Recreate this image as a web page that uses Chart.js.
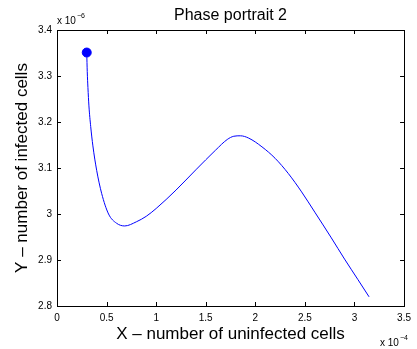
<!DOCTYPE html>
<html>
<head>
<meta charset="utf-8">
<script src="https://cdn.jsdelivr.net/npm/chart.js@4.4.1/dist/chart.umd.min.js"></script>
<style>
  html, body { margin: 0; padding: 0; background: #fff; }
  canvas { display: block; }
</style>
</head>
<body>
<canvas id="phaseChart" width="417" height="349"></canvas>
<script>
// x in units of 1e-4, y in units of 1e-6
const xValues = [0.300, 0.305, 0.312, 0.322, 0.340, 0.362, 0.400, 0.450, 0.520, 0.600, 0.683, 0.800, 0.900, 1.000,
  1.200, 1.400, 1.600, 1.717, 1.783, 1.850, 1.933, 2.067, 2.200, 2.333, 2.467, 2.600, 2.767, 2.900, 3.033, 3.147];
const yValues = [3.351, 3.310, 3.275, 3.235, 3.190, 3.148, 3.095, 3.045, 3.000, 2.980, 2.974, 2.983, 2.995, 3.012,
  3.052, 3.096, 3.139, 3.162, 3.169, 3.170, 3.165, 3.146, 3.121, 3.088, 3.048, 3.004, 2.948, 2.902, 2.858, 2.820];
const xTicks = [0, 0.5, 1, 1.5, 2, 2.5, 3, 3.5];
const yTicks = [2.8, 2.9, 3, 3.1, 3.2, 3.3, 3.4];

const FONT = 'Liberation Sans, Arial, Helvetica, sans-serif';

// Function to draw the matlab style box, inward ticks, title and exponents
const matlabFrame = {
  id: 'matlabFrame',
  afterDraw(chart) {
    const { ctx, chartArea: a, scales: { x, y } } = chart;
    ctx.save();
    ctx.strokeStyle = '#000';
    ctx.lineWidth = 1;
    ctx.strokeRect(Math.round(a.left) + 0.5, Math.round(a.top) + 0.5,
      Math.round(a.right - a.left), Math.round(a.bottom - a.top));

    ctx.beginPath();
    x.ticks.forEach(t => {
      const px = Math.round(x.getPixelForValue(t.value)) + 0.5;
      ctx.moveTo(px, a.bottom); ctx.lineTo(px, a.bottom - 4);
      ctx.moveTo(px, a.top); ctx.lineTo(px, a.top + 4);
    });
    y.ticks.forEach(t => {
      const py = Math.round(y.getPixelForValue(t.value)) + 0.5;
      ctx.moveTo(a.left, py); ctx.lineTo(a.left + 4, py);
      ctx.moveTo(a.right, py); ctx.lineTo(a.right - 4, py);
    });
    ctx.stroke();

    ctx.fillStyle = '#000';
    ctx.textAlign = 'center';
    ctx.textBaseline = 'alphabetic';
    ctx.font = '16px ' + FONT;
    ctx.fillText('Phase portrait 2', (a.left + a.right) / 2, 20);

    ctx.textAlign = 'left';
    ctx.font = '10px ' + FONT;
    ctx.fillText('x 10', a.left, 24);
    ctx.font = '7px ' + FONT;
    ctx.fillText('\u22126', a.left + 20, 18);

    ctx.font = '10px ' + FONT;
    ctx.fillText('x 10', 380, 346);
    ctx.font = '7px ' + FONT;
    ctx.fillText('\u22124', 400, 340);
    ctx.restore();
  }
};

const tickLabel = v => String(Math.round(v * 10) / 10);

new Chart(document.getElementById('phaseChart'), {
  type: 'scatter',
  data: {
    datasets: [{
      data: xValues.map((xv, i) => ({ x: xv, y: yValues[i] })),
      showLine: true,
      borderColor: '#0000ff',
      backgroundColor: '#0000ff',
      borderWidth: 1,
      cubicInterpolationMode: 'monotone',
      pointRadius: ctx => ctx.dataIndex === 0 ? 4.5 : 0,
      pointHoverRadius: 0,
    }],
  },
  plugins: [matlabFrame],
  options: {
    responsive: false,
    animation: false,
    layout: { padding: { top: 30, right: 9, left: 0, bottom: 0 } },
    plugins: {
      legend: { display: false },
      tooltip: { enabled: false },
    },
    scales: {
      x: {
        type: 'linear',
        min: 0,
        max: 3.5,
        afterFit: s => { s.height = 43; },
        afterBuildTicks: s => { s.ticks = xTicks.map(v => ({ value: v })); },
        grid: { display: false, drawTicks: false },
        border: { display: false },
        ticks: { color: '#000', padding: 6, font: { family: FONT, size: 10 }, callback: tickLabel },
        title: {
          display: true,
          text: 'X \u2013 number of uninfected cells',
          color: '#000',
          font: { family: FONT, size: 17 },
          padding: { top: 0, bottom: 4 },
        },
      },
      y: {
        type: 'linear',
        min: 2.8,
        max: 3.4,
        afterFit: s => { s.width = 57; },
        afterBuildTicks: s => { s.ticks = yTicks.map(v => ({ value: v })); },
        grid: { display: false, drawTicks: false },
        border: { display: false },
        ticks: { color: '#000', padding: 5, font: { family: FONT, size: 10 }, callback: tickLabel },
        title: {
          display: true,
          text: 'Y \u2013 number of infected cells',
          color: '#000',
          font: { family: FONT, size: 17 },
          padding: { top: 12, bottom: 0 },
        },
      },
    },
  },
});
</script>
</body>
</html>
